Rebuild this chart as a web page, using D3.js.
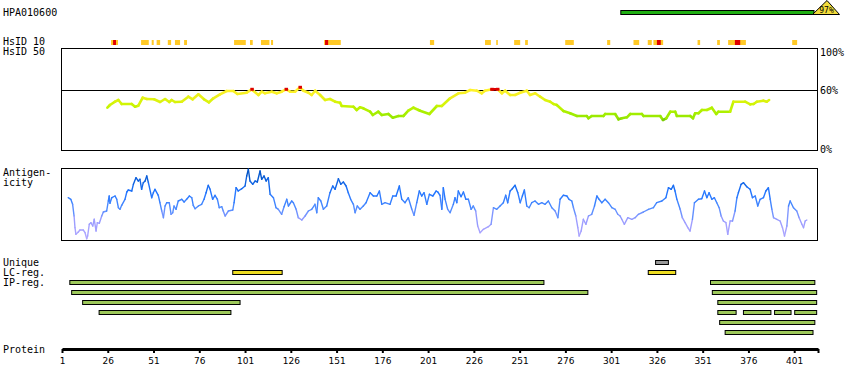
<!DOCTYPE html>
<html>
<head>
<meta charset="utf-8">
<script src="https://cdn.jsdelivr.net/npm/d3@7"></script>
<style>
  body { margin: 0; background: #fff; }
  text { font-family: "DejaVu Sans Mono", monospace; font-size: 10px; fill: #000; }
  .tick text { font-family: "DejaVu Sans", sans-serif; font-size: 9px; }
</style>
</head>
<body>
<svg id="chart" width="850" height="390"></svg>
<script>
// protein / antibody
let antibody = "HPA010600";
let proteinLength = 413;
let antigenRange = [306, 411];
let antigenIdentity = 97;

// HsID 10 hits (residue ranges)
let hsStart = [27.8, 44.2, 50, 52.7, 58.8, 62.7, 67.7, 95, 103.7, 109.7, 115.2, 144.2, 202, 232.1, 238.2, 248, 254, 275.9, 298.8, 313.2, 321, 324.1, 348.2, 358.9, 364.9, 399.9];
let hsEnd   = [31.6, 48.4, 51.1, 54.6, 60.6, 65.5, 69.3, 101.4, 105.2, 114.3, 116.3, 153.3, 204.3, 235.3, 239.1, 251.3, 255.5, 280.6, 300.5, 316.3, 323.2, 329.4, 349.6, 360.4, 374.6, 402.6];
let hsRedStart = [28.9, 144.7, 326, 368.6];
let hsRedEnd   = [30.5, 146.4, 328.1, 371.5];

// HsID 50 similarity curve (%)
let simPos = [25.8, 27.2, 30, 31.8, 33.6, 39.1, 40.9, 42.7, 45.1, 47.3,
  51.3, 54.6, 57.3, 59.6, 60.9, 62.7, 66.4, 70, 72.4, 75.5,
  78.6, 81.3, 83.7, 87.3, 91, 94.6, 96.8, 101.9, 104.7, 105.5,
  108.3, 110.1, 111.9, 115.6, 118.3, 121, 123.4, 125.6, 128.3, 131,
  132.9, 135.6, 137.4, 139.3, 142, 144.7, 147.4, 150.2, 152.9, 153.8,
  160.2, 162, 163.8, 165.6, 169.3, 170.8, 173.8, 175.7, 179.3, 181.7,
  184.8, 187.5, 190.2, 193, 195.7, 196.6, 201.7, 205.8, 208.5, 213,
  217.6, 221.2, 224, 227.6, 230.3, 232.1, 235.8, 238.9, 241.3, 243.1,
  245.8, 248.5, 251.3, 254.9, 256.7, 259.5, 262.2, 264.9, 267.7, 269.5,
  271.3, 274.9, 278.6, 282.3, 287.7, 288.6, 290.4, 296.8, 297.7, 303.2,
  305, 306.8, 309.6, 311.4, 317.8, 318.7, 327.8, 329.3, 331.1, 333.3,
  336, 336.9, 344.2, 345.7, 346.9, 348.7, 350.6, 353.3, 356, 358.4,
  359.6, 366, 367.8, 374.2, 377, 378.8, 380.6, 384.2, 386, 387.3];
let simPct = [42.3, 45, 48.3, 50, 46, 46, 43.3, 44.3, 52.3, 51,
  50.7, 48, 51, 48, 50, 48, 48.3, 53.3, 50.7, 55.7,
  50.7, 47.7, 51.7, 55.7, 59, 59, 56, 57.3, 60.7, 59.3,
  55, 58.3, 56.7, 58.3, 56.7, 58.3, 60.7, 58.3, 58.3, 62.7,
  59.3, 57.3, 55, 59.3, 55, 50, 51, 48.3, 47.3, 44,
  43.3, 40, 42.7, 41.7, 38.3, 35, 38.3, 35, 36, 32.3,
  34, 34, 39.3, 42.3, 40, 39.3, 36, 44, 44, 51.7,
  56.7, 57.3, 60, 59.3, 56.7, 59.3, 60.7, 60.7, 56.7, 59.3,
  55, 55, 57.3, 59.3, 55, 56.7, 53.3, 50, 48.3, 46,
  45, 39, 36.7, 34, 34, 31.7, 34, 34, 36, 36,
  30.7, 31.7, 32.7, 36, 36, 34, 34, 30, 31.7, 38.3,
  38.3, 34, 34, 31.7, 36.7, 36.7, 40, 40, 42.3, 36,
  38.3, 38.3, 48.3, 48.3, 45.7, 46, 48.3, 49.3, 48.3, 50];
let simTicks = [100, 60, 0];

// antigenicity profile
let agPos = [4.4, 5.8, 6.8, 7.6, 8.1, 8.6, 9.9, 10.8, 12.6, 13.6,
  14.5, 15, 15.9, 16.8, 17.8, 18.6, 19.6, 20.3, 21.4, 22.7,
  23.6, 25.4, 26.3, 26.8, 27.2, 28.2, 30, 30.9, 31.8, 32.7,
  33.6, 35.4, 36.4, 37.2, 39.1, 40, 41.4, 42.7, 43.6, 44.5,
  45.4, 46.4, 47.3, 48.2, 50, 50.9, 51.8, 53.6, 54.5, 55.5,
  56.4, 57.3, 58.2, 59.6, 60.6, 61.5, 62.2, 63.3, 64.5, 66.4,
  67.7, 69.1, 70.6, 71.9, 72.7, 73.7, 75.5, 77.3, 78.6, 79.7,
  80.9, 81.9, 83.3, 84.6, 85.9, 86.9, 88.3, 89.1, 90.1, 91.9,
  94.3, 95, 96.1, 97.3, 99.2, 101, 101.9, 102.8, 103.7, 105.2,
  106.5, 107.7, 109.2, 110.1, 111.4, 112.5, 113.7, 114.7, 116.5, 117.9,
  119.2, 121, 122.3, 123.8, 124.7, 126.5, 127.4, 128.9, 130.1, 132,
  133.8, 135.6, 137.4, 139.2, 140.2, 141, 142.4, 143.8, 145.6, 147.4,
  148.9, 150.2, 152, 153.3, 154.7, 156.2, 157.4, 158.7, 160.2, 161.1,
  162.3, 163.8, 165.6, 167.1, 169.3, 171.1, 173, 174.4, 175.7, 177.5,
  180.2, 181.7, 183.5, 185.3, 186.6, 188.4, 190.2, 192.1, 193.3, 194.8,
  196.2, 197.5, 198.8, 200.3, 201.7, 203.6, 205.4, 206.3, 207.5, 208.5,
  209.3, 210.3, 211.7, 213, 214.8, 215.7, 216.7, 217.5, 219, 220.3,
  221.6, 223, 224.5, 225.7, 227, 228.1, 229.4, 231.2, 233.9, 235.4,
  236.7, 238.5, 240.3, 242.1, 243.4, 244.5, 245.8, 247, 248.5, 250,
  251.3, 252.5, 253.6, 254.9, 256.2, 257.6, 259.4, 261.3, 263.1, 264.9,
  266.7, 268.6, 270.4, 271.9, 273.1, 274.9, 276.8, 278, 279.5, 280.4,
  281.7, 282.8, 283.5, 284.6, 285.8, 287.2, 288.6, 290.4, 291.9, 293.2,
  294.4, 295.9, 297.7, 299.5, 301.4, 303.2, 304.6, 305.9, 306.8, 308.2,
  310.1, 312.3, 314.1, 315.9, 318.6, 321.4, 324.1, 325.9, 328.7, 330.9,
  332.3, 333.8, 335, 335.9, 336.9, 338.7, 339.9, 341.4, 342.9, 344.1,
  345.4, 346.5, 348.7, 350.5, 352, 353.3, 354.5, 356, 357.4, 358.7,
  360, 361.1, 362.3, 363.7, 364.7, 366, 367.3, 368.7, 369.7, 370.5,
  372, 373.3, 375.1, 376.9, 378.2, 379.7, 381.1, 382.4, 384.2, 385.5,
  386.9, 387.9, 388.8, 389.7, 391.5, 393.3, 394.6, 395.7, 397, 397.9,
  398.8, 400.6, 402.4, 403.7, 405.2, 406.1, 407, 407.9];
let agVal = [42.3, 40.7, 35.7, 24, 12.3, 5.7, 8, 10, 10, 7.3,
  1.3, 4, 15.7, 17.3, 14, 20.7, 9, 17.3, 16.7, 24,
  28, 29, 39, 44, 36.7, 42.3, 44, 40.7, 32.3, 30.7,
  34.7, 40.7, 48, 50, 49, 55.7, 62.3, 59, 60.7, 50.7,
  57.3, 59, 64, 57.3, 42.3, 47.3, 50.7, 44.7, 37.3, 29,
  22.3, 34, 37.3, 37.3, 25.7, 27.3, 34, 30.7, 39, 40.7,
  38, 40.7, 44, 42.3, 34.7, 31.3, 34, 35.7, 40.7, 47.3,
  54.7, 50.7, 40.7, 44.7, 40.7, 32.3, 33.3, 29, 24, 29,
  30, 37.3, 52.3, 49, 51.3, 54, 64, 70.7, 59, 55.7,
  59, 58, 69, 60.7, 64, 59, 62.3, 45.7, 42.3, 32.3,
  30.7, 25.7, 33.3, 40.7, 34, 39, 37.3, 30.7, 22.3, 20,
  24, 29, 30.7, 35.7, 27.3, 42.3, 39, 30.7, 34, 47.3,
  54, 50.7, 61.3, 55.7, 58, 54, 47.3, 40.7, 35.7, 27.3,
  34, 30.7, 34, 37.3, 47.3, 44, 44, 49, 35.7, 37.3,
  35.7, 44, 44, 54, 40.7, 37.3, 42.3, 30.7, 24.7, 37.3,
  49, 44, 47.3, 35.7, 45.7, 44, 49, 48, 44.7, 30.7,
  52.3, 40.7, 30.7, 27.3, 35.7, 42.3, 37.3, 49, 43.3, 48,
  40.7, 40.7, 30.7, 34, 29, 14, 7.3, 10.7, 13.3, 15.7,
  32.3, 30.7, 34, 37.3, 44.7, 37.3, 49, 51.3, 54.7, 47.3,
  37.3, 44, 50, 34, 32.3, 37.3, 39, 35.7, 37.3, 35.7,
  39, 32.3, 29, 22.3, 40.7, 44.7, 44, 40.7, 39, 32.3,
  24, 12.3, 4, 9, 20.7, 15.7, 24, 25.7, 34, 44,
  40.7, 37.3, 40.7, 37.3, 32.3, 30.7, 25.7, 24, 20.7, 15.7,
  22.3, 20.7, 22.3, 25.7, 28, 30.7, 32.3, 37.3, 39, 42.3,
  52.3, 50.7, 54.7, 49, 40.7, 30.7, 22.3, 17.3, 12.3, 9,
  20.7, 37.3, 40.7, 41.3, 49, 42.3, 47.3, 40.7, 42.3, 37.3,
  32.3, 24, 19, 17.3, 5.7, 19, 19, 29, 42.3, 47.3,
  55.7, 57.3, 53.3, 50.7, 42.3, 44, 34, 40.7, 42.3, 49,
  52.3, 40.7, 30.7, 22.3, 20.7, 19, 12.3, 4, 14, 34,
  39, 32.3, 29, 22.3, 15.7, 12.3, 19, 20];

// region tracks
let uniqueStart = [325], uniqueEnd = [332];
let lcStart = [94, 321], lcEnd = [121, 336];
let ipStart = [5, 355, 6, 356, 12, 359, 21, 359, 373, 390, 401, 360, 363];
let ipEnd   = [264, 412, 288, 413, 98, 413, 93, 369, 388, 399, 413, 412, 411];
let ipRow   = [0, 0, 1, 1, 2, 2, 3, 3, 3, 3, 3, 4, 5];

let axisTicks = [1, 26, 51, 76, 101, 126, 151, 176, 201, 226, 251, 276, 301, 326, 351, 376, 401, 414];

let svg = d3.select("#chart");
let x = d3.scaleLinear().domain([1, proteinLength + 1]).range([62, 818]);

// left labels
let labels = [["HPA010600", 16], ["HsID 10", 45], ["HsID 50", 55], ["Antigen-", 176], ["icity", 186],
              ["Unique", 265.5], ["LC-reg.", 275.5], ["IP-reg.", 285.5], ["Protein", 353]];
svg.selectAll("text.lab").data(labels).enter().append("text")
    .attr("class", "lab").attr("x", 3).attr("y", d => d[1]).text(d => d[0]);

// antigen bar with identity triangle
let ax0 = x(antigenRange[0]), ax1 = x(antigenRange[1]) + 1;
svg.append("rect").attr("x", ax0 + 0.5).attr("y", 10.5).attr("width", ax1 - ax0).attr("height", 4)
    .attr("fill", "#1fae12").attr("stroke", "#000");
svg.append("path")
    .attr("d", d3.line()([[ax1 - 1, 14.5], [ax1 + 13.5, 0.5], [ax1 + 26, 14.5]]) + "Z")
    .attr("fill", "#f2dc3c").attr("stroke", "#000");
svg.append("text").attr("x", ax1 + 13).attr("y", 12.8).attr("text-anchor", "middle")
    .style("font-size", "8px").text(antigenIdentity + "%");

// HsID 10 strip
svg.selectAll("rect.hs").data(d3.zip(hsStart, hsEnd)).enter().append("rect")
    .attr("x", d => x(d[0])).attr("y", 40).attr("width", d => x(d[1]) - x(d[0])).attr("height", 5)
    .attr("fill", "#ffc926");
svg.selectAll("rect.hsr").data(d3.zip(hsRedStart, hsRedEnd)).enter().append("rect")
    .attr("x", d => x(d[0])).attr("y", 40).attr("width", d => x(d[1]) - x(d[0])).attr("height", 5)
    .attr("fill", "#e00000");

// similarity panel
let ys = d3.scaleLinear().domain([0, 100]).range([150, 50]);
svg.append("rect").attr("x", 61.5).attr("y", 48.5).attr("width", 756).attr("height", 102)
    .attr("fill", "none").attr("stroke", "#000");
svg.append("line").attr("x1", 61.5).attr("x2", 817.5).attr("y1", 90.5).attr("y2", 90.5).attr("stroke", "#000");
svg.selectAll("text.pct").data(simTicks).enter().append("text")
    .attr("x", 820).attr("y", d => d === 100 ? 55.5 : (d === 60 ? 94 : 153)).text(d => d + "%");

let simColor = d3.scaleLinear().domain([30, 31.5, 36, 45, 55, 60])
    .range(["#5aaa18", "#94e600", "#a2ee00", "#ccf500", "#f2f020", "#fff22a"]).clamp(true);
let simPts = d3.zip(simPos, simPct);
let simSegs = d3.pairs(simPts);
svg.selectAll("line.sim").data(simSegs).enter().append("line")
    .attr("x1", d => x(d[0][0])).attr("y1", d => ys(d[0][1]))
    .attr("x2", d => x(d[1][0])).attr("y2", d => ys(d[1][1]))
    .attr("stroke", d => (d[0][1] > 60 && d[1][1] > 60) ? "#dd0000" : simColor((d[0][1] + d[1][1]) / 2))
    .attr("stroke-width", 2.6).attr("stroke-linecap", "round");
svg.selectAll("rect.simr").data(simPts.filter(d => d[1] > 60)).enter().append("rect")
    .attr("x", d => x(d[0]) - 1.5).attr("y", d => ys(d[1]) - 1.5).attr("width", 3.5).attr("height", 3)
    .attr("fill", "#dd0000");

// antigenicity panel
let ya = d3.scaleLinear().domain([0, 72]).range([240, 168]);
svg.append("rect").attr("x", 61.5).attr("y", 168.5).attr("width", 756).attr("height", 72)
    .attr("fill", "none").attr("stroke", "#000");
let agColor = d3.scaleLinear().domain([0, 20, 32, 48, 68])
    .range(["#b3a9ff", "#9a9cff", "#4f8cff", "#1f74ff", "#0052c4"]).clamp(true);
let agSegs = d3.pairs(d3.zip(agPos, agVal));
svg.selectAll("line.ag").data(agSegs).enter().append("line")
    .attr("x1", d => x(d[0][0])).attr("y1", d => ya(d[0][1]))
    .attr("x2", d => x(d[1][0])).attr("y2", d => ya(d[1][1]))
    .attr("stroke", d => agColor((d[0][1] + d[1][1]) / 2))
    .attr("stroke-width", 1.4).attr("stroke-linecap", "round");

// region bars
function bars(starts, ends, rows, y0, fill) {
    svg.append("g").selectAll("rect").data(d3.zip(starts, ends, rows)).enter().append("rect")
        .attr("x", d => x(d[0]) + 0.5).attr("y", d => y0 + d[2] * 10 + 0.5)
        .attr("width", d => x(d[1]) - x(d[0])).attr("height", 4)
        .attr("fill", fill).attr("stroke", "#000");
}
bars(uniqueStart, uniqueEnd, [0], 260, "#999999");
bars(lcStart, lcEnd, [0, 0], 270, "#eedd22");
bars(ipStart, ipEnd, ipRow, 280, "#9dc85a");

// protein axis
let axis = d3.axisBottom(x).tickValues(axisTicks)
    .tickFormat(d => d > proteinLength ? "" : d).tickSize(4).tickSizeOuter(0).tickPadding(5);
let g = svg.append("g").attr("transform", "translate(0,349)").call(axis);
g.select(".domain").attr("stroke-width", 3);
g.selectAll(".tick line").attr("stroke-width", 2);
</script>
</body>
</html>
